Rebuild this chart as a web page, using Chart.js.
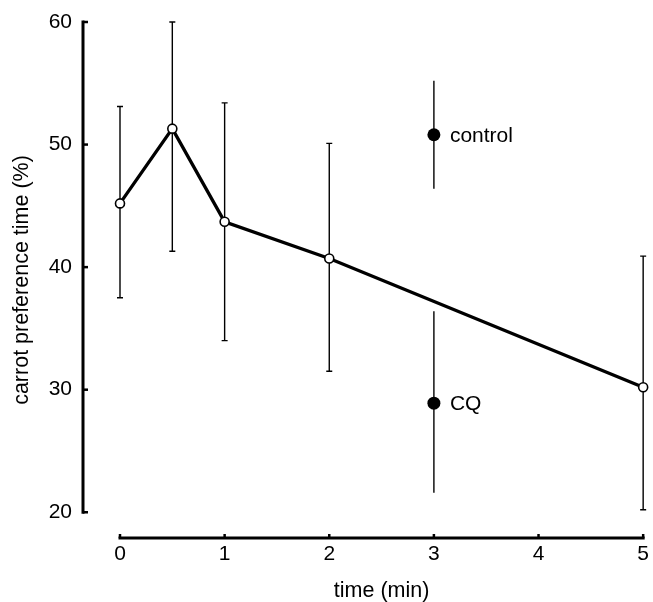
<!DOCTYPE html>
<html>
<head>
<meta charset="utf-8">
<script src="https://cdn.jsdelivr.net/npm/chart.js@4.4.1/dist/chart.umd.min.js"></script>
<style>
  html, body { margin: 0; padding: 0; background: #fff; }
</style>
</head>
<body>
<canvas id="prefChart" width="653" height="602"></canvas>
<script>
// Time course (open circles)
const timePoints = [0, 0.5, 1, 2, 5];
const prefMean = [45.2, 51.3, 43.7, 40.7, 30.2];
const prefLow = [37.5, 41.3, 34.0, 31.5, 20.2];
const prefHigh = [53.1, 60.0, 53.4, 50.1, 40.9];

// Reference groups (filled circles)
const groupLabels = ["control", "CQ"];
const groupTime = [3, 3];
const groupMean = [50.8, 28.9];
const groupLow = [46.4, 21.6];
const groupHigh = [55.2, 36.4];

// Axis ticks
const xTicks = [0, 1, 2, 3, 4, 5];
const yTicks = [20, 30, 40, 50, 60];

const FONT = "'Liberation Sans', Arial, Helvetica, sans-serif";

// error bars behind the markers
const errorBars = {
  id: "errorBars",
  beforeDatasetsDraw(chart) {
    const { ctx, scales } = chart;
    ctx.save();
    ctx.strokeStyle = "#000";
    ctx.lineWidth = 1.4;
    chart.data.datasets.forEach((ds) => {
      ds.data.forEach((p, i) => {
        const x = scales.x.getPixelForValue(p.x);
        const y1 = scales.y.getPixelForValue(ds.errLow[i]);
        const y2 = scales.y.getPixelForValue(ds.errHigh[i]);
        ctx.beginPath();
        ctx.moveTo(x, y1);
        ctx.lineTo(x, y2);
        if (ds.capWidth) {
          ctx.moveTo(x - ds.capWidth, y1);
          ctx.lineTo(x + ds.capWidth, y1);
          ctx.moveTo(x - ds.capWidth, y2);
          ctx.lineTo(x + ds.capWidth, y2);
        }
        ctx.stroke();
      });
    });
    ctx.restore();
  },
};

// detached axis lines with inward ticks
const axisLines = {
  id: "axisLines",
  afterDraw(chart) {
    const { ctx, scales, chartArea } = chart;
    ctx.save();
    ctx.strokeStyle = "#000";
    ctx.lineWidth = 3;
    ctx.lineCap = "butt";

    // y axis
    const ax = chartArea.left - 37;
    const yTop = scales.y.getPixelForValue(yTicks[yTicks.length - 1]);
    const yBot = scales.y.getPixelForValue(yTicks[0]);
    ctx.beginPath();
    ctx.moveTo(ax, yTop - 1.5);
    ctx.lineTo(ax, yBot + 1.5);
    ctx.stroke();
    ctx.lineWidth = 2.5;
    yTicks.forEach((v) => {
      const y = scales.y.getPixelForValue(v);
      ctx.beginPath();
      ctx.moveTo(ax, y);
      ctx.lineTo(ax + 5, y);
      ctx.stroke();
    });

    // x axis
    ctx.lineWidth = 3;
    const ay = chartArea.bottom;
    const xL = scales.x.getPixelForValue(xTicks[0]);
    const xR = scales.x.getPixelForValue(xTicks[xTicks.length - 1]);
    ctx.beginPath();
    ctx.moveTo(xL - 1.5, ay);
    ctx.lineTo(xR + 1.5, ay);
    ctx.stroke();
    ctx.lineWidth = 2.5;
    xTicks.forEach((v) => {
      const x = scales.x.getPixelForValue(v);
      ctx.beginPath();
      ctx.moveTo(x, ay);
      ctx.lineTo(x, ay - 4);
      ctx.stroke();
    });
    ctx.restore();
  },
};

// text next to the group markers
const groupText = {
  id: "groupText",
  afterDatasetsDraw(chart) {
    const { ctx, scales } = chart;
    ctx.save();
    ctx.fillStyle = "#000";
    ctx.font = "21px " + FONT;
    ctx.textAlign = "left";
    ctx.textBaseline = "middle";
    groupLabels.forEach((t, i) => {
      const x = scales.x.getPixelForValue(groupTime[i]);
      const y = scales.y.getPixelForValue(groupMean[i]);
      ctx.fillText(t, x + 16, y + 1);
    });
    ctx.restore();
  },
};

const ctx = document.getElementById("prefChart").getContext("2d");
new Chart(ctx, {
  type: "scatter",
  data: {
    datasets: [
      {
        data: timePoints.map((t, i) => ({ x: t, y: prefMean[i] })),
        errLow: prefLow,
        errHigh: prefHigh,
        capWidth: 3,
        showLine: true,
        borderColor: "#000",
        borderWidth: 3.3,
        tension: 0,
        pointRadius: 4.5,
        pointBackgroundColor: "#fff",
        pointBorderColor: "#000",
        pointBorderWidth: 1.6,
        clip: false,
      },
      {
        data: groupTime.map((t, i) => ({ x: t, y: groupMean[i] })),
        errLow: groupLow,
        errHigh: groupHigh,
        capWidth: 0,
        showLine: false,
        pointRadius: 6.5,
        pointBackgroundColor: "#000",
        pointBorderColor: "#000",
        pointBorderWidth: 0,
        clip: false,
      },
    ],
  },
  options: {
    responsive: false,
    devicePixelRatio: 1,
    animation: false,
    layout: { padding: { top: 22, right: 9, left: 0, bottom: 0 } },
    plugins: {
      legend: { display: false },
      tooltip: { enabled: false },
    },
    scales: {
      x: {
        type: "linear",
        min: 0,
        max: 5,
        afterBuildTicks: (s) => { s.ticks = xTicks.map((v) => ({ value: v })); },
        afterFit: (s) => { s.height = 64; },
        grid: { display: false, drawTicks: false },
        border: { display: false },
        ticks: { color: "#000", font: { family: FONT, size: 21 }, padding: 4, maxRotation: 0 },
        title: {
          display: true,
          text: "time (min)",
          color: "#000",
          font: { family: FONT, size: 21.5, lineHeight: 1 },
          padding: { top: 0, bottom: 0 },
        },
      },
      y: {
        type: "linear",
        min: 17.9,
        max: 60,
        afterBuildTicks: (s) => { s.ticks = yTicks.map((v) => ({ value: v })); },
        afterFit: (s) => { s.width = 120; },
        // tickLength only spaces the labels away from the plot; the marks are drawn by axisLines
        grid: { display: false, drawTicks: true, tickLength: 44 },
        border: { display: false },
        ticks: { color: "#000", font: { family: FONT, size: 21 }, padding: 4 },
        title: {
          display: true,
          text: "carrot preference time (%)",
          color: "#000",
          font: { family: FONT, size: 21.5, lineHeight: 1.2 },
          padding: { top: 9, bottom: 0 },
        },
      },
    },
  },
  plugins: [errorBars, axisLines, groupText],
});
</script>
</body>
</html>
